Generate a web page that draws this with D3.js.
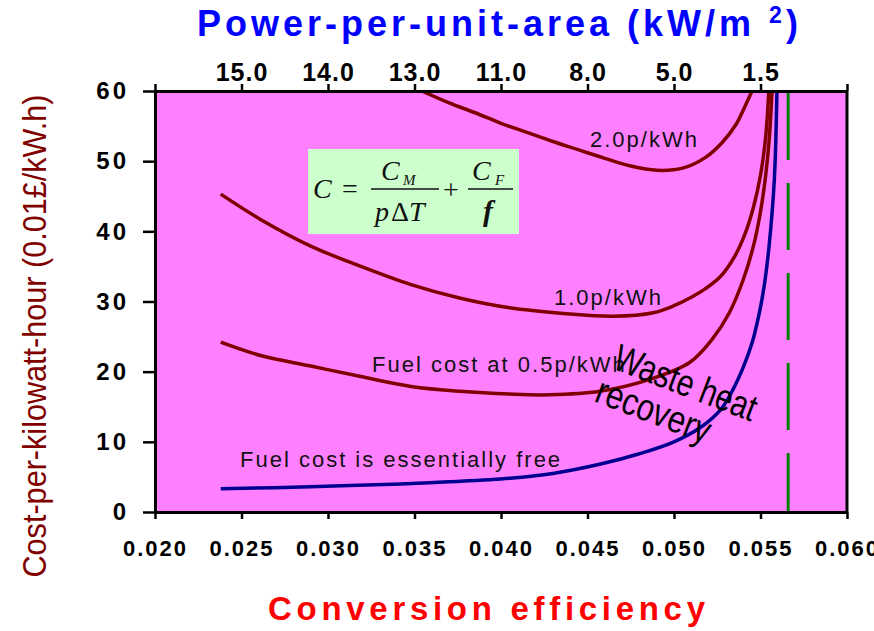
<!DOCTYPE html>
<html>
<head>
<meta charset="utf-8">
<script src="https://cdn.jsdelivr.net/npm/d3@7"></script>
<style>
  body { margin: 0; background: #fff; }
  svg { display: block; }
</style>
</head>
<body>
<div id="chart"></div>
<script>
// axis values
const effTicks = [0.020, 0.025, 0.030, 0.035, 0.040, 0.045, 0.050, 0.055, 0.060];
const costTicks = [0, 10, 20, 30, 40, 50, 60];
const powerTicks = [0.025, 0.030, 0.035, 0.040, 0.045, 0.050, 0.055];
const powerLabels = ["15.0", "14.0", "13.0", "11.0", "8.0", "5.0", "1.5"];

// fuel cost essentially free
const effFree = [0.0238, 0.0290, 0.0342, 0.0370, 0.0405, 0.0430, 0.0457, 0.0480, 0.0500, 0.0515, 0.0527, 0.0534, 0.0540, 0.0545, 0.0549, 0.0552, 0.0555, 0.0558, 0.05595];
const costFree = [3.3, 3.6, 4.0, 4.3, 4.8, 5.5, 6.8, 8.3, 10.0, 12.0, 14.6, 17.4, 20.6, 24.0, 28.0, 32.0, 38.0, 47.4, 60.0];

// fuel cost 0.5p/kWh
const eff05 = [0.0238, 0.0261, 0.0290, 0.0319, 0.0348, 0.0376, 0.0405, 0.0428, 0.0457, 0.0486, 0.0509, 0.0522, 0.0532, 0.0540, 0.0546, 0.0550, 0.0553, 0.0555, 0.05567];
const cost05 = [24.2, 22.3, 20.8, 19.3, 17.9, 17.2, 16.8, 16.7, 17.2, 18.9, 21.3, 24.6, 28.4, 33.1, 38.0, 42.8, 48.0, 53.0, 60.0];

// fuel cost 1.0p/kWh
const eff10 = [0.0238, 0.0261, 0.0290, 0.0319, 0.0348, 0.0376, 0.0405, 0.0436, 0.0465, 0.0488, 0.0500, 0.0510, 0.0518, 0.0527, 0.0535, 0.0541, 0.0546, 0.0550, 0.0553, 0.05548];
const cost10 = [45.3, 41.7, 37.9, 35.0, 32.4, 30.5, 29.1, 28.3, 27.9, 28.4, 29.4, 30.6, 31.8, 33.6, 36.4, 39.6, 43.5, 48.0, 53.5, 60.0];

// fuel cost 2.0p/kWh
const eff20 = [0.03542, 0.0370, 0.0385, 0.0400, 0.0415, 0.0430, 0.0445, 0.0460, 0.0475, 0.0490, 0.0505, 0.0518, 0.0528, 0.0536, 0.0541, 0.05451];
const cost20 = [60.0, 58.3, 56.9, 55.4, 54.1, 52.8, 51.6, 50.4, 49.3, 48.7, 49.0, 50.5, 52.7, 55.3, 57.8, 60.0];

const wasteLimit = 0.0566;

const width = 874, height = 631;
const plotLeft = 155, plotRight = 847, plotTop = 91, plotBottom = 512;

const svg = d3.select("#chart")
  .append("svg")
  .attr("width", width)
  .attr("height", height)
  .style("font-family", "'Liberation Sans', Arial, sans-serif");

const x = d3.scaleLinear().domain([0.02, 0.06]).range([plotLeft, plotRight]);
const y = d3.scaleLinear().domain([0, 60]).range([plotBottom, plotTop]);

// plot background
svg.append("rect")
  .attr("x", plotLeft).attr("y", plotTop)
  .attr("width", plotRight - plotLeft).attr("height", plotBottom - plotTop)
  .attr("fill", "#ff80ff");

svg.append("clipPath").attr("id", "plot-clip")
  .append("rect")
  .attr("x", plotLeft).attr("y", plotTop)
  .attr("width", plotRight - plotLeft).attr("height", plotBottom - plotTop);

// formula box
const box = svg.append("g").attr("class", "formula");
box.append("rect")
  .attr("x", 308).attr("y", 149)
  .attr("width", 211).attr("height", 85)
  .attr("fill", "#ccffcc");

const serif = "'Liberation Serif', 'Times New Roman', serif";
const ft = (xx, yy, txt, size, style, weight) =>
  box.append("text")
    .attr("x", xx).attr("y", yy)
    .attr("font-family", serif)
    .attr("font-size", size)
    .attr("font-style", style || "normal")
    .attr("font-weight", weight || "normal")
    .attr("fill", "#111")
    .text(txt);

ft(313, 198, "C", 28, "italic");
ft(342, 198, "=", 28);
ft(381, 180, "C", 28, "italic");
ft(403, 185, "M", 15, "italic");
ft(443, 199, "+", 28);
ft(472, 180, "C", 28, "italic");
ft(495, 185, "F", 15, "italic");
ft(483, 221, "f", 30, "italic", "bold");
const den = box.append("text")
  .attr("x", 375).attr("y", 221)
  .attr("font-family", serif)
  .attr("font-size", 28)
  .attr("fill", "#111");
den.append("tspan").attr("font-style", "italic").text("p");
den.append("tspan").attr("dx", 2).text("Δ");
den.append("tspan").attr("font-style", "italic").text("T");

box.append("line")
  .attr("x1", 371).attr("x2", 439).attr("y1", 189).attr("y2", 189)
  .attr("stroke", "#111").attr("stroke-width", 1.5);
box.append("line")
  .attr("x1", 468).attr("x2", 513).attr("y1", 189).attr("y2", 189)
  .attr("stroke", "#111").attr("stroke-width", 1.5);

// waste heat recovery limit
svg.append("line")
  .attr("x1", x(wasteLimit)).attr("x2", x(wasteLimit))
  .attr("y1", y(60) + 2).attr("y2", y(0))
  .attr("stroke", "#008000")
  .attr("stroke-width", 3)
  .attr("stroke-dasharray", "67,23");

// curves
const line = d3.line()
  .x(d => x(d[0]))
  .y(d => y(d[1]))
  .curve(d3.curveCatmullRom.alpha(0.5));

const series = [
  { eff: eff20, cost: cost20, color: "#800000" },
  { eff: eff10, cost: cost10, color: "#800000" },
  { eff: eff05, cost: cost05, color: "#800000" },
  { eff: effFree, cost: costFree, color: "#000090" }
];

svg.append("g")
  .attr("clip-path", "url(#plot-clip)")
  .selectAll("path")
  .data(series)
  .enter()
  .append("path")
  .attr("d", s => line(d3.zip(s.eff, s.cost)))
  .attr("fill", "none")
  .attr("stroke", s => s.color)
  .attr("stroke-width", 3.5)
  .attr("stroke-linejoin", "round");

// curve labels
const label = (xx, yy, txt) =>
  svg.append("text")
    .attr("x", xx).attr("y", yy)
    .attr("font-size", 22)
    .attr("letter-spacing", 2)
    .attr("fill", "#111")
    .text(txt);

label(590, 147, "2.0p/kWh");
label(554, 305, "1.0p/kWh");
label(372, 372, "Fuel cost at 0.5p/kWh");
label(240, 467, "Fuel cost is essentially free");

svg.append("text")
  .attr("transform", "translate(611,368) rotate(21)")
  .attr("font-size", 38)
  .attr("textLength", 150)
  .attr("lengthAdjust", "spacingAndGlyphs")
  .attr("fill", "#000")
  .text("Waste heat");

svg.append("text")
  .attr("transform", "translate(593,401) rotate(21)")
  .attr("font-size", 38)
  .attr("textLength", 120)
  .attr("lengthAdjust", "spacingAndGlyphs")
  .attr("fill", "#000")
  .text("recovery");

// axes
const styleAxis = g => {
  g.select(".domain").attr("stroke", "#000").attr("stroke-width", 3);
  g.selectAll(".tick line").attr("stroke", "#000").attr("stroke-width", 2.5);
  g.selectAll(".tick text")
    .attr("fill", "#000")
    .attr("font-weight", "bold")
    .attr("font-family", "'Liberation Sans', Arial, sans-serif");
};

const xAxis = d3.axisBottom(x)
  .tickValues(effTicks)
  .tickFormat(d3.format(".3f"))
  .tickSize(7)
  .tickSizeOuter(0)
  .tickPadding(21);

svg.append("g")
  .attr("transform", `translate(0,${plotBottom})`)
  .call(xAxis)
  .call(styleAxis)
  .call(g => g.selectAll(".tick text").attr("font-size", 22).attr("letter-spacing", 2));

const powerFormat = d => {
  const i = powerTicks.findIndex(v => Math.abs(v - d) < 1e-9);
  return i < 0 ? "" : powerLabels[i];
};

const topAxis = d3.axisTop(x)
  .tickValues(effTicks)
  .tickFormat(powerFormat)
  .tickSize(7)
  .tickSizeOuter(0)
  .tickPadding(3);

svg.append("g")
  .attr("transform", `translate(0,${plotTop})`)
  .call(topAxis)
  .call(styleAxis)
  .call(g => g.selectAll(".tick text").attr("font-size", 25).attr("letter-spacing", 1));

const yAxis = d3.axisLeft(y)
  .tickValues(costTicks)
  .tickSize(12)
  .tickSizeOuter(0)
  .tickPadding(14);

svg.append("g")
  .attr("transform", `translate(${plotLeft},0)`)
  .call(yAxis)
  .call(styleAxis)
  .call(g => g.selectAll(".tick text").attr("font-size", 24).attr("letter-spacing", 3));

// right border
svg.append("line")
  .attr("x1", plotRight).attr("x2", plotRight)
  .attr("y1", plotTop).attr("y2", plotBottom)
  .attr("stroke", "#000").attr("stroke-width", 3);

// titles
const topTitle = svg.append("text")
  .attr("x", 197).attr("y", 36)
  .attr("font-size", 36)
  .attr("font-weight", "bold")
  .attr("fill", "#0000ff")
  .attr("letter-spacing", 4);
topTitle.append("tspan").text("Power-per-unit-area (kW/m ");
topTitle.append("tspan").attr("font-size", 23).attr("dy", -13).text("2");
topTitle.append("tspan").attr("dy", 13).text(")");

svg.append("text")
  .attr("x", 268).attr("y", 620)
  .attr("font-size", 33)
  .attr("font-weight", "bold")
  .attr("fill", "#ff0000")
  .attr("textLength", 437)
  .attr("lengthAdjust", "spacing")
  .text("Conversion efficiency");

svg.append("text")
  .attr("transform", "translate(46,336) rotate(-90)")
  .attr("text-anchor", "middle")
  .attr("font-size", 34)
  .attr("textLength", 483)
  .attr("lengthAdjust", "spacingAndGlyphs")
  .attr("fill", "#800000")
  .text("Cost-per-kilowatt-hour (0.01£/kW.h)");
</script>
</body>
</html>
